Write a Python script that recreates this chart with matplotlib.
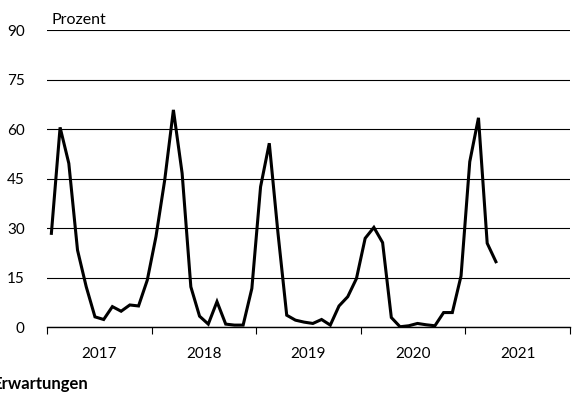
import numpy as np
import matplotlib
matplotlib.use("Agg")
import matplotlib.pyplot as plt

plt.rcParams['font.family'] = ['Lato', 'DejaVu Sans']

# monthly values, Prozent
values = [28.5, 60.6, 49.7, 23.4, 12.3, 3.2, 2.4, 6.3, 4.9, 6.8, 6.5, 14.3,
          27.5, 44.6, 65.9, 46.7, 12.3, 3.4, 1.0, 7.8, 1.0, 0.7, 0.7, 11.8,
          42.6, 55.8, 28.5, 3.7, 2.2, 1.6, 1.2, 2.4, 0.7, 6.5, 9.3, 14.8,
          27.0, 30.3, 25.7, 3.0, 0.2, 0.5, 1.2, 0.8, 0.5, 4.5, 4.5, 15.6,
          50.2, 63.5, 25.5, 19.9]
years = ["2017", "2018", "2019", "2020", "2021"]
yticks = [0, 15, 30, 45, 60, 75, 90]

x = np.arange(len(values)) + 0.5

fig = plt.figure(figsize=(5.72, 3.94), dpi=100)
ax = fig.add_axes([0.0822, 0.169, 0.9143, 0.754])

ax.plot(x, values, color='black', lw=2.2, solid_joinstyle='miter', zorder=3)

ax.set_xlim(0, 12 * len(years))
ax.set_ylim(0, 90)
ax.set_yticks(yticks)
ax.yaxis.grid(True, color='black', lw=0.8)
ax.set_axisbelow(True)
ax.tick_params(axis='y', length=0, pad=16, labelsize=11)

ax.set_xticks(np.arange(0, 12 * len(years) + 1, 12))
ax.set_xticklabels([])
ax.set_xticks(np.arange(6, 12 * len(years), 12), minor=True)
ax.set_xticklabels(years, minor=True)
ax.tick_params(axis='x', which='major', length=5, width=0.8, direction='out')
ax.tick_params(axis='x', which='minor', length=0, pad=14, labelsize=11)

for s in ['top', 'right', 'left']:
    ax.spines[s].set_visible(False)
ax.spines['bottom'].set_linewidth(1.0)

ax.text(0.008, 1.012, 'Prozent', transform=ax.transAxes, va='bottom',
        ha='left', fontsize=11.5)

fig.text(88 / 572, 1 - 384 / 394, 'Erwartungen', ha='right', va='center',
         fontsize=12, fontweight='bold')

fig.savefig('out.png', dpi=100)
